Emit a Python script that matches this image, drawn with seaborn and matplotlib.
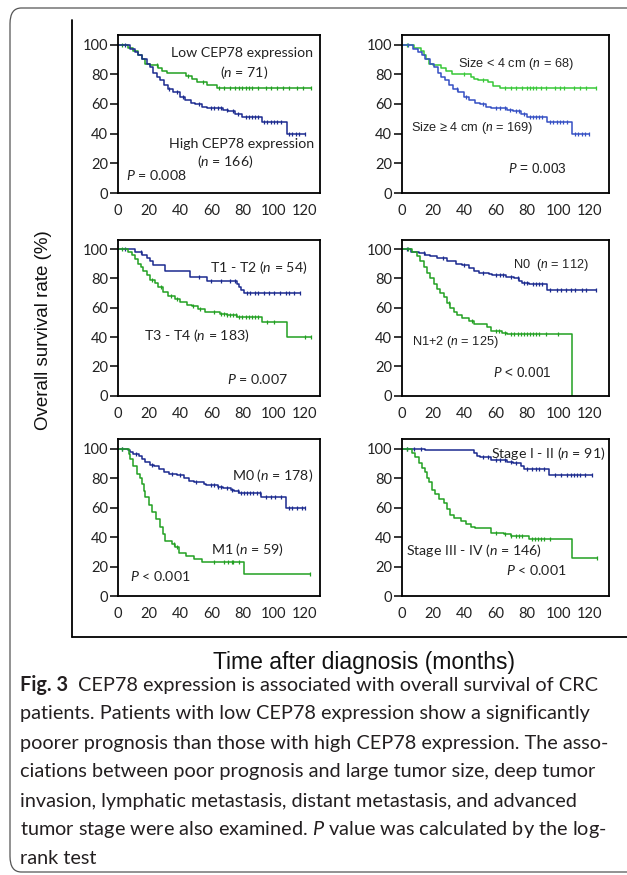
import numpy as np
import pandas as pd
import matplotlib
matplotlib.use("Agg")
import matplotlib.pyplot as plt
import matplotlib.patches as mpatches
from matplotlib.lines import Line2D
import seaborn as sns

sns.set_theme(style="white")
plt.rcParams['font.family'] = ['Lato', 'DejaVu Sans']
plt.rcParams['mathtext.fontset'] = 'custom'
plt.rcParams['mathtext.it'] = 'Lato:italic'
plt.rcParams['mathtext.rm'] = 'Lato'

# ---- data (time in months, survival in %) ----
# (a) CEP78 expression
low_t = [0, 6.8, 10, 13.2, 15.4, 17.5, 20.7, 26, 28.2, 31.4, 44, 47.4, 50.6, 57, 63.5, 123.7]
low_s = [100, 98, 96, 93, 90, 87, 86, 84, 82, 81, 79, 77, 75, 73, 71, 71]
low_c = [3, 25, 45, 55, 65, 68, 72, 75, 78, 80, 82, 84, 86, 90, 95, 98, 102, 106, 110, 115, 119, 123.7]
high_t = [0, 7.9, 11, 13, 15.4, 18.6, 20.7, 22.9, 25, 27, 30, 32.5, 35.7, 40, 43, 47, 49.6, 54, 57,
          67.7, 71, 75, 79.5, 92.3, 108.3, 120]
high_s = [100, 97, 95, 93, 90, 87, 85, 81, 78, 76, 73, 70, 68, 65, 63, 61, 60, 58, 57, 56, 55, 53, 51, 48, 40, 40]
high_c = [5, 33, 38, 42, 52, 60, 62, 64, 66, 70, 74, 77, 82, 84, 86, 88, 90, 94, 96, 98, 100, 102, 105,
          110, 112, 114, 116, 120]

# (b) tumor size
small_t = [0, 8, 12, 14, 15.5, 17, 20, 25, 28, 32, 44, 46, 49, 55, 58, 63, 124.3]
small_s = [100, 98, 96, 93, 90, 87, 86, 84, 82, 80, 78, 77, 76, 75, 72, 71, 71]
small_c = [3, 40, 52, 66, 70, 73, 77, 80, 82, 84, 86, 89, 92, 98, 101, 104, 110, 114, 118, 124.3]
large_t = [0, 7, 10, 12.5, 15, 18, 20.5, 23, 25, 27.5, 30, 32.5, 36, 40, 43, 47, 50, 54, 57, 67, 71,
           76, 80, 93, 109, 120]
large_s = [100, 97, 95, 93, 90, 87, 85, 81, 78, 76, 73, 70, 68, 65, 63, 61, 60, 58, 57, 56, 55, 53, 51, 48, 40, 40]
large_c = [4, 35, 41, 52, 60, 63, 66, 69, 73, 75, 78, 82, 84, 86, 88, 90, 95, 97, 99, 101, 103, 106,
           111, 113, 115, 117, 120]

# (c) T stage
t12_t = [0, 11, 15.4, 18.6, 20.7, 22.9, 30.4, 46.5, 57.2, 76.4, 77.5, 79, 80.7, 116.7]
t12_s = [100, 98, 96, 94, 92, 89, 85, 81, 78, 76, 74, 72, 70, 70]
t12_c = [5, 15, 52, 60, 66, 72, 75, 83, 85, 88, 90, 94, 97, 100, 104, 108, 110, 113, 116.7]
t34_t = [0, 6.8, 9, 11, 13.3, 14.8, 16.5, 18.6, 20.8, 24, 26, 29.3, 32.5, 36.8, 40, 44.3, 47.5, 51.8,
         56, 65.7, 70, 76.4, 92.5, 108.6, 124]
t34_s = [100, 98, 96, 93, 90, 88, 85, 82, 79, 77, 74, 71, 68, 66, 64, 62, 61, 59, 57, 56, 55, 54, 50, 40, 40]
t34_c = [3, 22, 28, 34, 38, 48, 53, 62, 66, 68, 70, 72, 74, 76, 78, 80, 82, 84, 86, 88, 90, 96, 100, 120, 124]

# (d) N stage
n0_t = [0, 6, 10.7, 15, 18.2, 22.5, 29, 34.3, 38.6, 43, 46, 49.3, 55.7, 57.9, 66.4, 71.8, 75, 77,
        81.4, 93.2, 124.3]
n0_s = [100, 98, 97, 96, 95, 94, 92, 90, 89, 87, 85, 84, 83, 82, 81, 80, 78, 77, 76, 72, 72]
n0_c = [3, 14, 26, 40, 52, 60, 63, 65, 70, 74, 78, 80, 84, 86, 88, 90, 95, 99, 102, 105, 108, 111,
        115, 118, 124.3]
n12_t = [0, 6.4, 9.6, 11.8, 14, 16, 18.2, 20.4, 22.5, 24.6, 26.8, 29, 31, 33.2, 35.4, 38.6, 42.9, 46,
         54.6, 56.8, 64.3, 67.5, 108.9, 108.9]
n12_s = [100, 98, 95, 92, 88, 84, 80, 76, 73, 70, 67, 63, 60, 57, 55, 53, 51, 49, 47, 44, 43, 42, 42, 0]
n12_c = [4, 30, 45, 60, 62, 66, 70, 72, 74, 76, 78, 80, 82, 84, 86, 88, 92, 100]

# (e) M stage
m0_t = [0, 6.9, 8, 10, 13.4, 15.5, 17.7, 20.9, 23, 26.3, 29.5, 32.8, 38, 42.5, 45.7, 49, 55.4, 56.5,
        64, 67.2, 72.6, 74.8, 78, 92, 108, 120]
m0_s = [100, 99, 98, 96, 95, 93, 91, 89, 88, 86, 84, 83, 82, 80, 78, 77, 76, 75, 74, 73, 72, 71, 70, 67, 60, 60]
m0_c = [3, 12, 22, 35, 40, 50, 60, 62, 64, 66, 70, 73, 77, 79, 81, 83, 85, 87, 89, 91, 95, 98, 101,
        105, 110, 112, 115, 118, 120]
m1_t = [0, 7, 8, 10, 12.3, 14, 15.5, 16.6, 17.7, 20, 22.2, 24.4, 27.4, 29, 30.6, 35, 37, 39.2, 43.5,
        48.9, 54.3, 80.8, 123.3]
m1_s = [100, 96, 93, 88, 83, 80, 76, 71, 67, 62, 57, 52, 47, 42, 37, 35, 33, 29, 27, 25, 23, 15, 15]
m1_c = [3, 36, 38, 62, 68, 71, 73, 74, 78, 123.3]

# (f) TNM stage
s12_t = [0, 15, 46, 48, 50, 56.7, 67.5, 71, 76, 78, 94.2, 122]
s12_s = [100, 99, 97, 95, 94, 92, 91, 90, 88, 86, 82, 82]
s12_c = [3, 8, 12, 52, 55, 60, 63, 66, 70, 73, 80, 83, 86, 88, 91, 98, 102, 106, 108, 110, 112, 114, 117, 122]
s34_t = [0, 6.4, 8.6, 10.7, 12.8, 15, 16, 17, 19.3, 21.4, 23.5, 26.8, 29, 31, 33.2, 37.5, 40.7, 44,
         47, 53.5, 56.7, 65.3, 69.6, 81.4, 109.2, 124.8]
s34_s = [100, 97, 94, 90, 87, 84, 80, 77, 72, 69, 66, 63, 59, 55, 53, 51, 49, 47, 46, 46, 43, 42, 41, 39, 26, 26]
s34_c = [3, 60, 66, 70, 73, 75, 77, 83, 85, 87, 89, 91, 95, 124.8]

BLUE = "#1b2a8f"
GREEN = "#22a022"
BLUE2 = "#3550c4"
GREEN2 = "#38c838"

W, H = 627, 875
fig = plt.figure(figsize=(W / 100, H / 100), dpi=100)


def px_axes(x0, y0, x1, y1):
    return fig.add_axes([x0 / W, 1 - y1 / H, (x1 - x0) / W, (y1 - y0) / H])


def km(ax, t, s, c, color):
    df = pd.DataFrame({"time": t, "surv": s})
    sns.lineplot(data=df, x="time", y="surv", ax=ax, color=color, lw=1.1,
                 estimator=None, sort=False, drawstyle="steps-post")
    idx = np.searchsorted(np.array(t), np.array(c), side="right") - 1
    cdf = pd.DataFrame({"time": c, "surv": np.array(s)[idx]})
    sns.scatterplot(data=cdf, x="time", y="surv", ax=ax, color=color, marker="|",
                    s=10, linewidth=0.9)


def style(ax, xmax):
    ax.set_xlim(0, xmax)
    ax.set_ylim(0, 106.5)
    ax.set_xticks([0, 20, 40, 60, 80, 100, 120])
    ax.set_yticks([0, 20, 40, 60, 80, 100])
    ax.set_xlabel("")
    ax.set_ylabel("")
    for sp in ax.spines.values():
        sp.set_visible(True)
        sp.set_color("black")
        sp.set_linewidth(1.3)
    ax.tick_params(axis="y", length=6, width=1.1, color="black", labelsize=10.5, pad=1)
    ax.tick_params(axis="x", length=0, labelsize=10.5, pad=8)
    ax.tick_params(axis="y", which="both", left=True)
    for lab in ax.get_xticklabels() + ax.get_yticklabels():
        lab.set_color("#222222")


def note(ax, x, y, txt, ha="center", fam="Lato", size=10.2):
    ax.text(x, y, txt, ha=ha, va="center", fontsize=size, family=fam, color="#222222")


cols = [(117.7, 320, 129.7), (402, 609, 132.6)]
rows = [(35, 193), (239.5, 395.7), (439, 596)]

# (a)
ax = px_axes(cols[0][0], rows[0][0], cols[0][1], rows[0][1])
km(ax, low_t, low_s, low_c, GREEN)
km(ax, high_t, high_s, high_c, BLUE)
style(ax, cols[0][2])
note(ax, 80, 94.4, "Low CEP78 expression")
note(ax, 81, 81, "($\\mathit{n}$ = 71)")
note(ax, 79.5, 33, "High CEP78 expression")
note(ax, 69, 21, "($\\mathit{n}$ = 166)")
note(ax, 5.5, 12, "$\\mathit{P}$ = 0.008", ha="left")

# (b)
ax = px_axes(cols[1][0], rows[0][0], cols[1][1], rows[0][1])
km(ax, small_t, small_s, small_c, GREEN2)
km(ax, large_t, large_s, large_c, BLUE2)
style(ax, cols[1][2])
note(ax, 73, 86.8, "Size < 4 cm ($\\mathit{n}$ = 68)", fam="Liberation Sans", size=9.2)
note(ax, 45, 43.6, "Size \u2265 4 cm ($\\mathit{n}$ = 169)", fam="Liberation Sans", size=9.2)
note(ax, 87, 16.4, "$\\mathit{P}$ = 0.003", fam="Liberation Sans", size=9.8)

# (c)
ax = px_axes(cols[0][0], rows[1][0], cols[0][1], rows[1][1])
km(ax, t12_t, t12_s, t12_c, BLUE)
km(ax, t34_t, t34_s, t34_c, GREEN)
style(ax, cols[0][2])
note(ax, 90.4, 87.7, "T1 - T2 ($\\mathit{n}$ = 54)")
note(ax, 50.7, 41, "T3 - T4 ($\\mathit{n}$ = 183)")
note(ax, 89.3, 11.2, "$\\mathit{P}$ = 0.007")

# (d)
ax = px_axes(cols[1][0], rows[1][0], cols[1][1], rows[1][1])
km(ax, n0_t, n0_s, n0_c, BLUE)
km(ax, n12_t, n12_s, n12_c, GREEN)
style(ax, cols[1][2])
note(ax, 95.4, 89, "N0  ($\\mathit{n}$ = 112)", fam="Liberation Sans", size=9.2)
note(ax, 34.3, 36.7, "N1+2 ($\\mathit{n}$ = 125)", fam="Liberation Sans", size=9.2)
note(ax, 77, 15.2, "$\\mathit{P}$ < 0.001", fam="Liberation Sans", size=9.8)

# (e)
ax = px_axes(cols[0][0], rows[2][0], cols[0][1], rows[2][1])
km(ax, m0_t, m0_s, m0_c, BLUE)
km(ax, m1_t, m1_s, m1_c, GREEN)
style(ax, cols[0][2])
note(ax, 99.5, 81.5, "M0 ($\\mathit{n}$ = 178)")
note(ax, 83.4, 31.5, "M1 ($\\mathit{n}$ = 59)")
note(ax, 27.4, 13.5, "$\\mathit{P}$ < 0.001")

# (f)
ax = px_axes(cols[1][0], rows[2][0], cols[1][1], rows[2][1])
km(ax, s12_t, s12_s, s12_c, BLUE)
km(ax, s34_t, s34_s, s34_c, GREEN)
style(ax, cols[1][2])
note(ax, 130.5, 97, "Stage I - II ($\\mathit{n}$ = 91)", ha="right")
note(ax, 46, 30.7, "Stage III - IV ($\\mathit{n}$ = 146)")
note(ax, 85.7, 17.6, "$\\mathit{P}$ < 0.001")

# frame around the panels
fig.add_artist(Line2D([72 / W, 72 / W], [1 - 20 / H, 1 - 637 / H], color="black", lw=1.3,
                      transform=fig.transFigure))
fig.add_artist(Line2D([72 / W, 1.0], [1 - 637 / H, 1 - 637 / H], color="black", lw=1.3,
                      transform=fig.transFigure))
# outer rounded box of the figure
fig.add_artist(mpatches.FancyBboxPatch((10 / W, 1 - 872 / H), 1.2, 864 / H,
                                       boxstyle="round,pad=0,rounding_size=0.018",
                                       transform=fig.transFigure, fill=False,
                                       ec="#555555", lw=0.9))

fig.text(44 / W, 1 - 330 / H, "Overall survival rate (%)", rotation=90, ha="center", va="center",
         fontsize=13.5, family="Liberation Sans", color="#111111")
fig.text(364 / W, 1 - 662 / H, "Time after diagnosis (months)", ha="center", va="center",
         fontsize=16.5, family="Liberation Sans", color="#111111")

# caption
cap = ["CEP78 expression is associated with overall survival of CRC",
       "patients. Patients with low CEP78 expression show a significantly",
       "poorer prognosis than those with high CEP78 expression. The asso-",
       "ciations between poor prognosis and large tumor size, deep tumor",
       "invasion, lymphatic metastasis, distant metastasis, and advanced",
       "tumor stage were also examined. $\\mathit{P}$ value was calculated by the log-",
       "rank test"]
fig.text(20 / W, 1 - 685 / H, "Fig. 3", ha="left", va="center", fontsize=14.3,
         weight="bold", color="#231f20")
fig.text(78 / W, 1 - 685 / H, cap[0], ha="left", va="center", fontsize=14.3, color="#231f20")
for i, line in enumerate(cap[1:]):
    fig.text(20 / W, 1 - (714 + 29 * i) / H, line, ha="left", va="center", fontsize=14.3,
             color="#231f20")

fig.savefig("out.png", dpi=100)
